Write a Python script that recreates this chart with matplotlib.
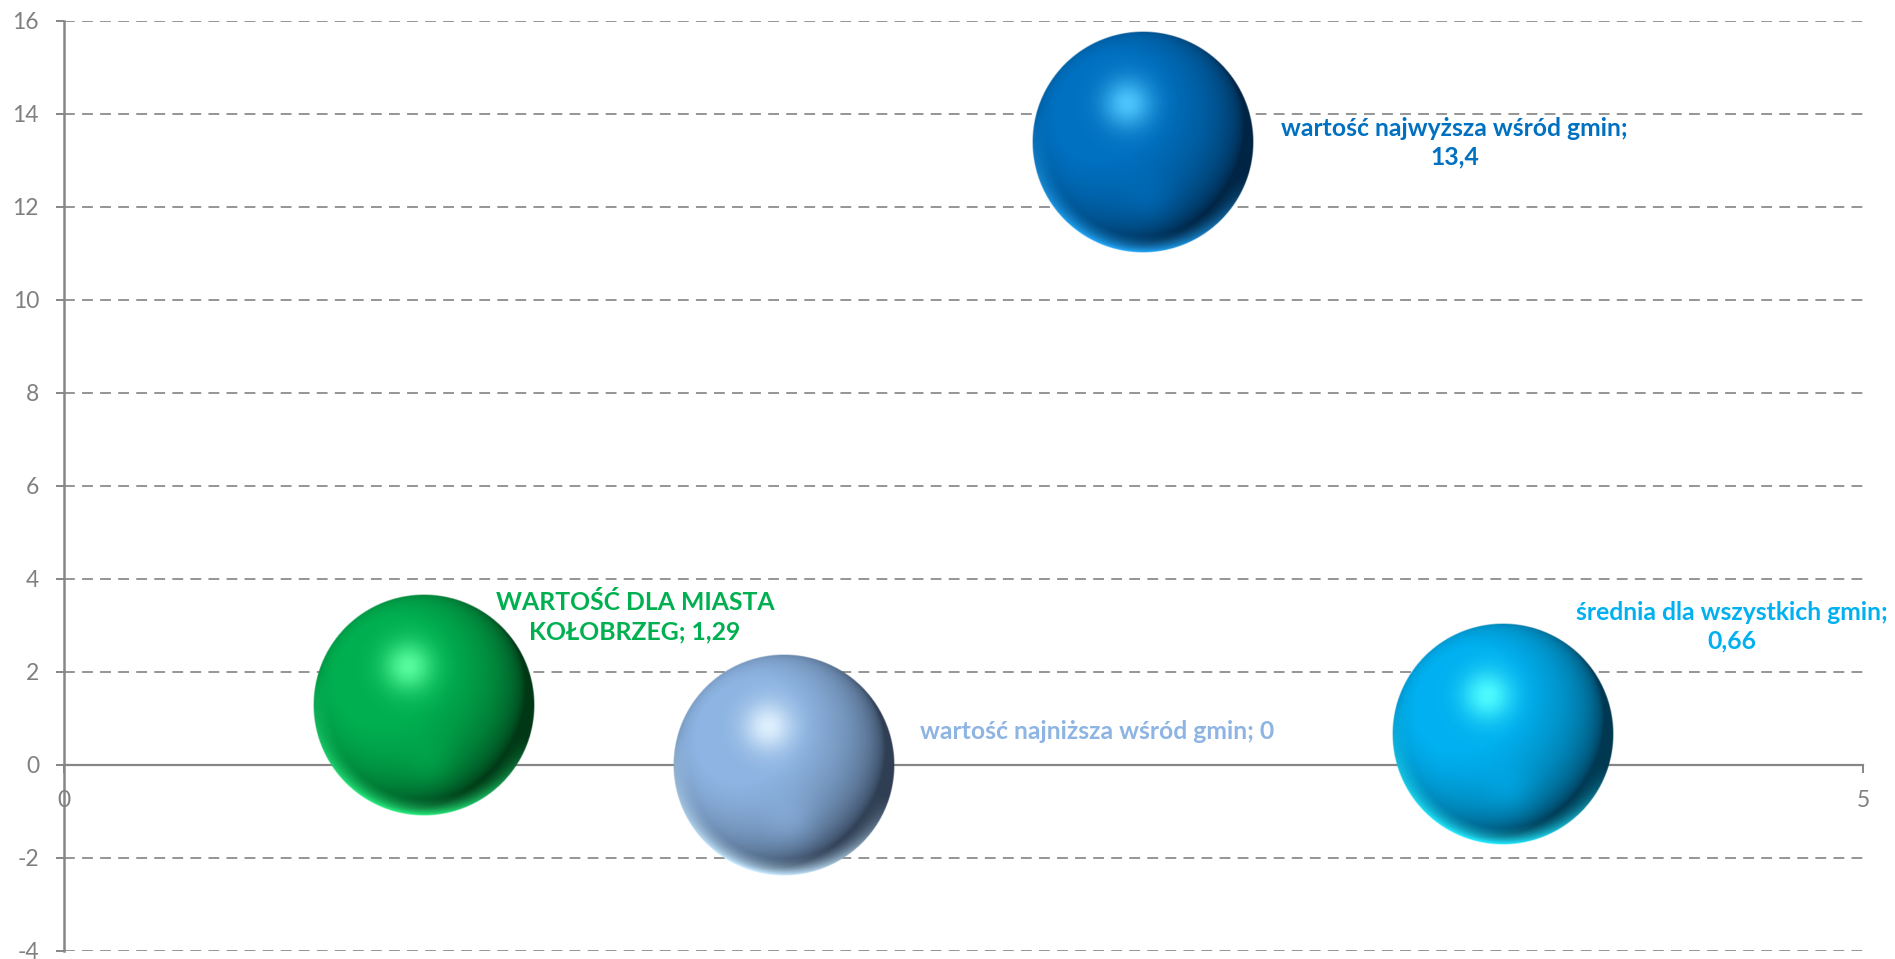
import numpy as np
import matplotlib
matplotlib.use('Agg')
import matplotlib.pyplot as plt

plt.rcParams['font.family'] = ['Lato', 'DejaVu Sans']

# data
x_vals = [1, 2, 3, 4]
y_vals = [1.29, 0, 13.4, 0.66]
sizes = [1, 1, 1, 1]
labels = ['WARTOŚĆ DLA MIASTA\nKOŁOBRZEG; 1,29',
          'wartość najniższa wśród gmin; 0',
          'wartość najwyższa wśród gmin;\n13,4',
          'średnia dla wszystkich gmin;\n0,66']
label_offsets = [(152, 63), (226, 24), (224, -1), (165, 77)]  # points
base_cols = [(0, 176, 80), (141, 180, 226), (0, 112, 192), (0, 176, 240)]
hi_cols = [(90, 255, 160), (225, 242, 255), (80, 200, 255), (80, 255, 255)]
dark_cols = [(0, 28, 8), (25, 35, 50), (0, 18, 38), (0, 28, 45)]
text_cols = ['#00B050', '#8DB4E2', '#0070C0', '#00B0F0']
y_ticks = list(range(-4, 17, 2))
x_ticks = [0, 5]


def sphere(base, hi, dark, n=320):
    base = np.array(base) / 255.0
    hi = np.array(hi) / 255.0
    dark = np.array(dark) / 255.0
    u, v = np.meshgrid(np.linspace(-1, 1, n), np.linspace(-1, 1, n))
    r = np.sqrt(u ** 2 + v ** 2)
    nz = np.sqrt(np.clip(1 - r ** 2, 0, 1))
    L = np.array([-0.4, 0.35, 0.85])
    L = L / np.linalg.norm(L)
    d = np.clip(u * L[0] + v * L[1] + nz * L[2], 0, 1)
    s = (np.clip(0.05 + 1.1 * d, 0, 1) ** 0.55)[..., None]
    col = dark + (base - dark) * s
    g = 0.95 * np.exp(-((u + 0.14) ** 2 + (v - 0.35) ** 2) / 0.05)
    col = col + (hi - col) * g[..., None]
    glow = 0.3 * np.exp(-((u - 0.05) ** 2 + (v + 0.5) ** 2) / 0.05)
    col = col + (base * 1.1 - col) * glow[..., None]
    rim = np.clip((r - 0.84) / 0.16, 0, 1) ** 1.3 * np.clip(-v * 0.95 - u * 0.3, 0, 1)
    lite = np.clip(base * 0.75 + hi * 0.4, 0, 1)
    col = col + (lite - col) * np.clip(1.1 * rim, 0, 1)[..., None]
    col = np.clip(col, 0, 1)
    alpha = np.clip((1 - r) * n / 2.0, 0, 1)
    return np.dstack([col, alpha])


fig = plt.figure(figsize=(18.95, 9.59), dpi=100)
ax = fig.add_axes([0.0338, 0.0087, 0.9493, 0.9697])
ax.set_xlim(0, 5)
ax.set_ylim(-4, 16)

gray = '#868686'
for sp in ['top', 'right']:
    ax.spines[sp].set_visible(False)
ax.spines['bottom'].set_position(('data', 0))
ax.spines['bottom'].set_color(gray)
ax.spines['left'].set_color(gray)
ax.spines['bottom'].set_linewidth(1.6)
ax.spines['left'].set_linewidth(1.8)
ax.spines['left'].set_zorder(1)
ax.spines['bottom'].set_zorder(1)

ax.set_yticks(y_ticks)
ax.set_xticks(x_ticks)
ax.set_yticklabels([str(t) for t in y_ticks])
ax.set_xticklabels([str(t) for t in x_ticks])
ax.tick_params(axis='y', direction='out', length=6, width=1.4, color=gray,
               labelcolor='#808080', labelsize=16.5, pad=12)
ax.tick_params(axis='x', direction='out', length=6, width=1.4, color=gray,
               labelcolor='#808080', labelsize=16.5, pad=12)

for t in y_ticks:
    if t != 0:
        ax.axhline(t, color='#8c8c8c', lw=1.3, ls=(0, (6, 4)), zorder=0)

# bubbles as shaded spheres
r_px = 111
p0 = ax.transData.transform((0, 0))
p1 = ax.transData.transform((1, 1))
ux = r_px / (p1[0] - p0[0])
uy = r_px / (p1[1] - p0[1])
for i in range(len(x_vals)):
    img = sphere(base_cols[i], hi_cols[i], dark_cols[i])
    rx = ux * np.sqrt(sizes[i])
    ry = uy * np.sqrt(sizes[i])
    ax.imshow(img, extent=[x_vals[i] - rx, x_vals[i] + rx, y_vals[i] - ry, y_vals[i] + ry],
              origin='lower', aspect='auto', interpolation='bilinear', zorder=3)
    ax.annotate(labels[i], (x_vals[i], y_vals[i]), xytext=label_offsets[i],
                textcoords='offset points', ha='center', va='center',
                color=text_cols[i], fontsize=17.8, fontweight='bold',
                linespacing=1.3, zorder=5)

ax.set_xlim(0, 5)
ax.set_ylim(-4, 16)
fig.savefig('out.png', dpi=100)
